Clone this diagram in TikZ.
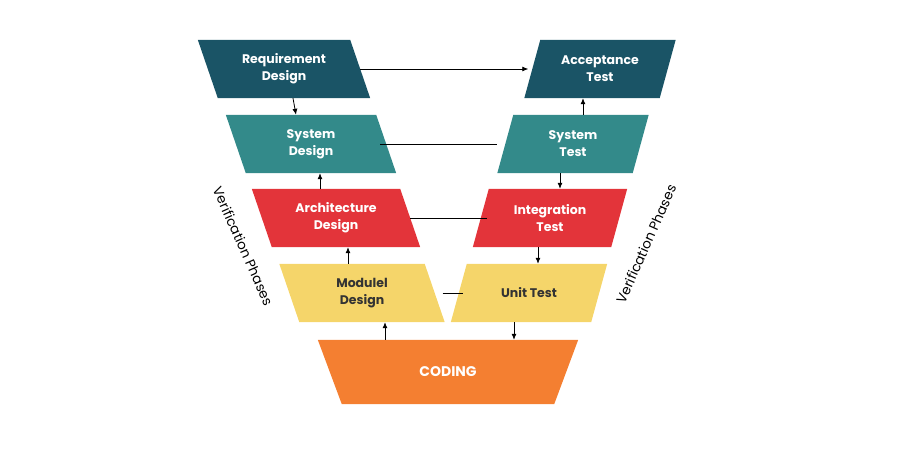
\documentclass[tikz,border=0pt]{standalone}
\usepackage{fontspec}
\setmainfont{Poppins}
\usetikzlibrary{arrows.meta}
\definecolor{darkteal}{HTML}{1A5466}
\definecolor{teal}{HTML}{338A8A}
\definecolor{redbox}{HTML}{E3343A}
\definecolor{yellowbox}{HTML}{F5D56A}
\definecolor{orangebox}{HTML}{F47F31}
\definecolor{darktext}{HTML}{333333}
\tikzset{
  phase/.style={minimum height=58pt, inner sep=0pt, align=center,
    text=white, font=\fontsize{12.5}{17}\selectfont\bfseries},
  link/.style={thick},
  arr/.style={thick,-{Latex[length=6pt,width=5pt]}},
}
\newcommand{\lbox}[2]{% left slant
  \fill[#2] ([xshift=-10pt]#1.north west) -- ([xshift=-10pt]#1.north east)
    -- ([xshift=10pt]#1.south east) -- ([xshift=10pt]#1.south west) -- cycle;}
\newcommand{\rbox}[2]{% right slant
  \fill[#2] ([xshift=8pt]#1.north west) -- ([xshift=8pt]#1.north east)
    -- ([xshift=-8pt]#1.south east) -- ([xshift=-8pt]#1.south west) -- cycle;}
\begin{document}
\begin{tikzpicture}[x=1pt,y=-1pt]
\useasboundingbox (0,0) rectangle (906,460);

% left branch
\node[phase,minimum width=152pt] (req) at (284,69) {};
\node[phase,minimum width=150pt] (sys) at (311,144) {};
\node[phase,minimum width=148pt] (arch) at (336,218) {};
\node[phase,minimum width=145pt] (mod) at (362,293) {};
% right branch
\node[phase,minimum width=135pt] (acc) at (600,69) {};
\node[phase,minimum width=135pt] (syst) at (573,144) {};
\node[phase,minimum width=138pt] (integ) at (550,218) {};
\node[phase,minimum width=140pt] (unit) at (529,293) {};
% bottom
\node[phase,minimum width=236pt,minimum height=64pt] (code) at (448,372) {};

\lbox{req}{darkteal}
\lbox{sys}{teal}
\lbox{arch}{redbox}
\lbox{mod}{yellowbox}
\rbox{acc}{darkteal}
\rbox{syst}{teal}
\rbox{integ}{redbox}
\rbox{unit}{yellowbox}
\fill[orangebox] ([xshift=-12pt]code.north west) -- ([xshift=12pt]code.north east)
  -- ([xshift=-12pt]code.south east) -- ([xshift=12pt]code.south west) -- cycle;

\node[phase] at (req) {Requirement\\Design};
\node[phase] at (sys) {System\\Design};
\node[phase] at (arch) {Architecture\\Design};
\node[phase,text=darktext] at (mod) {Modulel\\Design};
\node[phase] at (acc) {Acceptance\\Test};
\node[phase] at (syst) {System\\Test};
\node[phase] at (integ) {Integration\\Test};
\node[phase,text=darktext] at (unit) {Unit Test};
\node[phase,font=\fontsize{14}{17}\selectfont\bfseries] at (code) {CODING};

% links across
\draw[arr] (req.east) -- ([xshift=-4pt]acc.west);
\draw[link] ([xshift=-6pt]sys.east) -- ([xshift=-8pt]syst.west);
\draw[link] (arch.east) -- ([xshift=6pt]integ.west);
\draw[link] ([xshift=8pt]mod.east) -- ([xshift=4pt]unit.west);

% down the left, up the right
\draw[arr] ([xshift=9pt]req.south) -- ([xshift=-15pt]sys.north);
\draw[arr] ([xshift=-16pt]arch.north) -- ([xshift=9pt]sys.south);
\draw[arr] ([xshift=-14pt]mod.north) -- ([xshift=12pt]arch.south);
\draw[arr] ([xshift=-63pt]code.north) -- ([xshift=23pt]mod.south);
\draw[arr] ([xshift=-15pt]unit.south) -- ([xshift=66pt]code.north);
\draw[arr] ([xshift=-12pt]integ.south) -- ([xshift=9pt]unit.north);
\draw[arr] ([xshift=-13pt]syst.south) -- ([xshift=10pt]integ.north);
\draw[arr] ([xshift=10pt]syst.north) -- ([xshift=-17pt]acc.south);

% side labels
\node[rotate=-66,font=\fontsize{13.5}{16}\selectfont] (lver) at (243,246) {Verification Phases};
\node[rotate=66,font=\fontsize{13.5}{16}\selectfont] (rver) at (646,244) {Verification Phases};
\end{tikzpicture}
\end{document}
